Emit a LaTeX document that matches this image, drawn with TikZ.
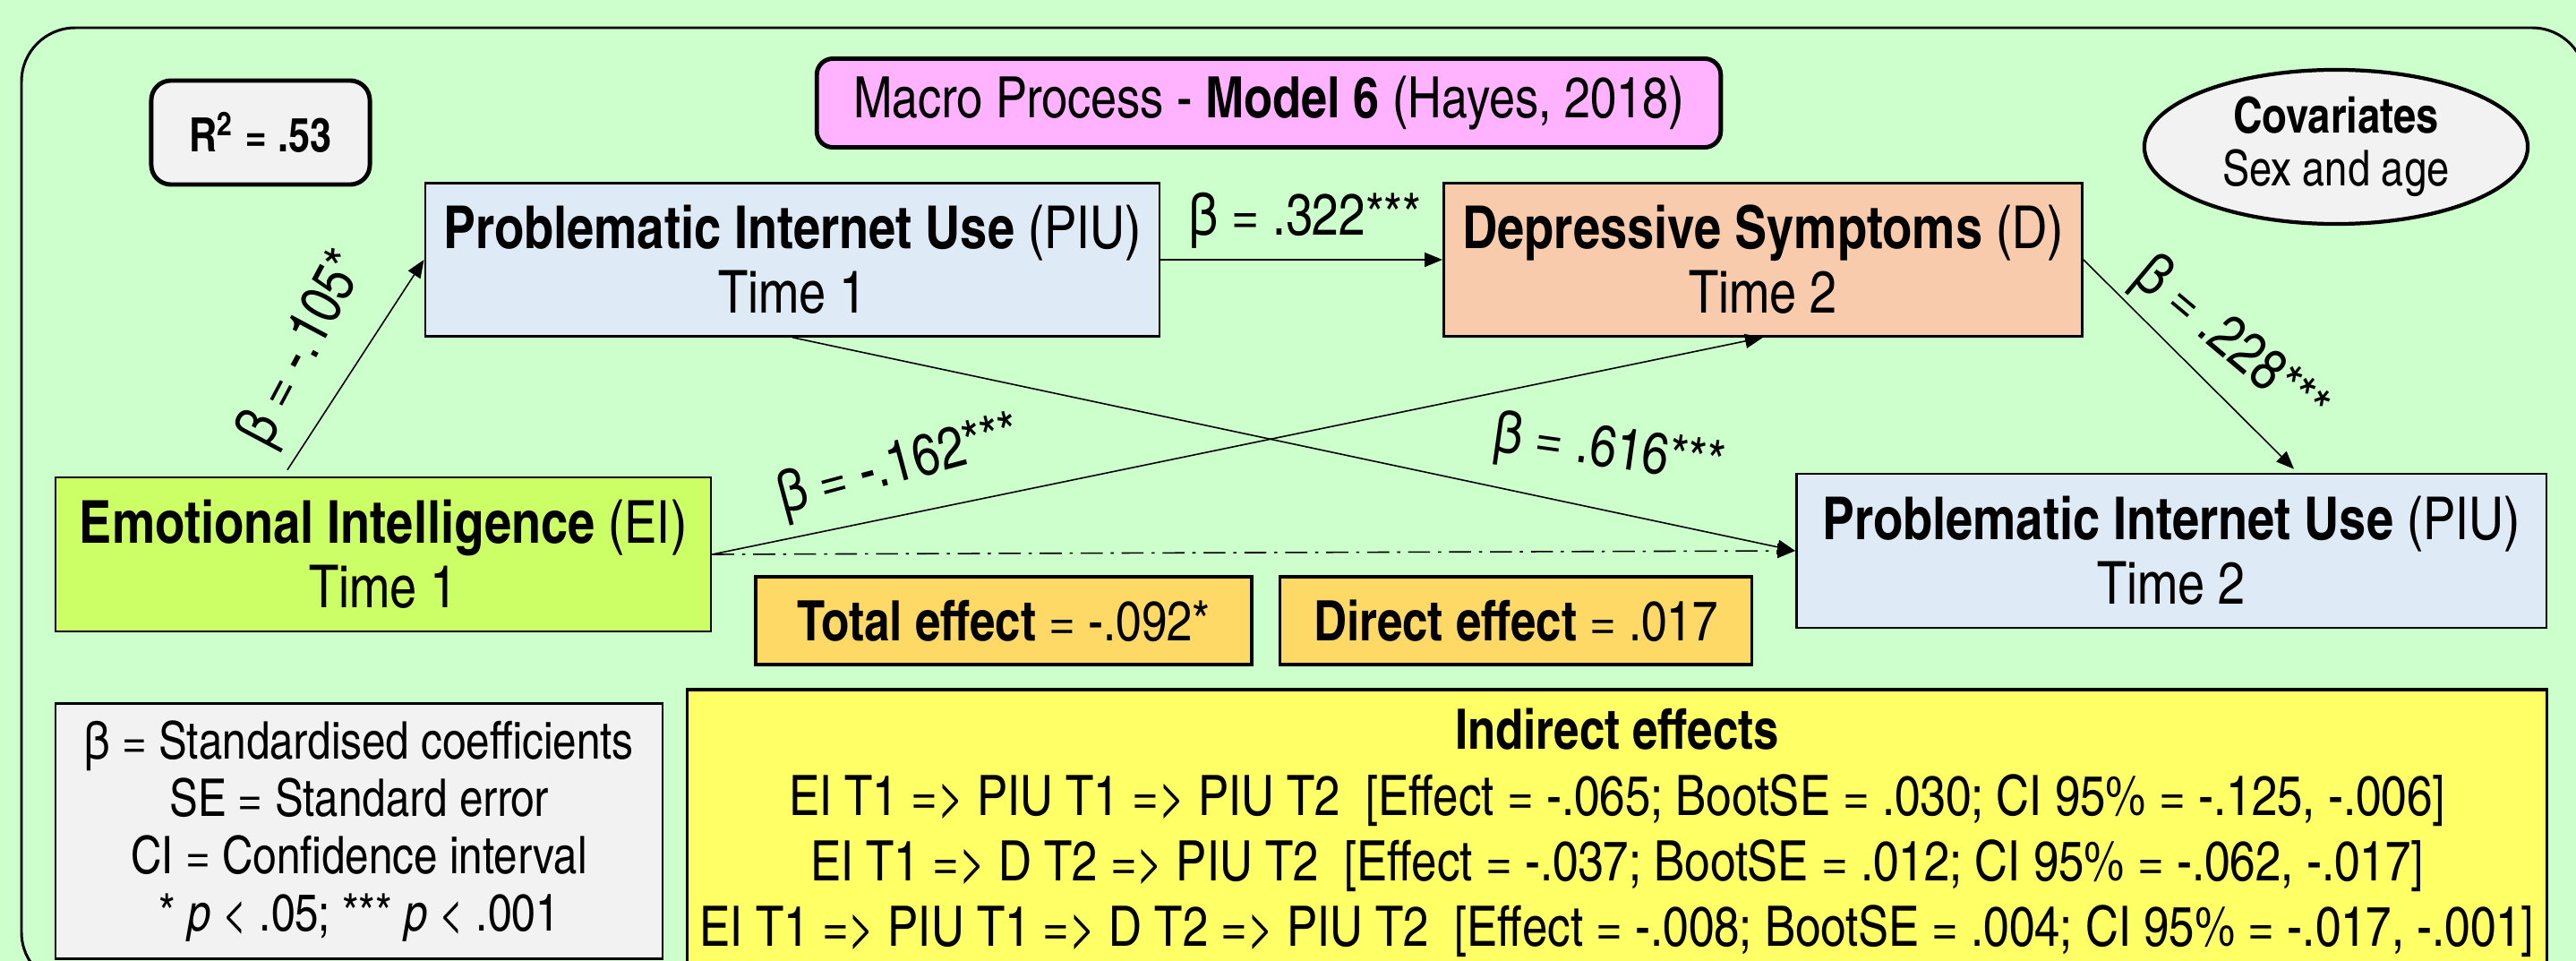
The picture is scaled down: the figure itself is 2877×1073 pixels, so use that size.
\documentclass[tikz,border=0pt]{standalone}
\usepackage{fontspec}
\setmainfont{texgyreheroscn}[Extension=.otf, UprightFont=*-regular, BoldFont=*-bold, ItalicFont=*-italic, BoldItalicFont=*-bolditalic]
\usetikzlibrary{arrows.meta,shapes.geometric}

\definecolor{bgc}{HTML}{CCFFCC}
\definecolor{greyfill}{HTML}{F2F2F2}
\definecolor{pinkfill}{HTML}{FFB3FF}
\definecolor{bluefill}{HTML}{DEEBF7}
\definecolor{peachfill}{HTML}{F8CBAD}
\definecolor{limefill}{HTML}{CCFF66}
\definecolor{goldfill}{HTML}{FFD966}
\definecolor{yellowfill}{HTML}{FFFF66}

\newcommand\bigtxt{\fontsize{18.8pt}{20.5pt}\selectfont}
\newcommand\coeftxt{\fontsize{18.5pt}{20.5pt}\selectfont}
\newcommand\macrotxt{\fontsize{18.1pt}{20.5pt}\selectfont}
\newcommand\efftxt{\fontsize{17.7pt}{20.5pt}\selectfont}
\newcommand\smalltxt{\fontsize{16.5pt}{18.2pt}\selectfont}
\newcommand\covtxt{\fontsize{15.7pt}{16.8pt}\selectfont}
\newcommand\rtxt{\fontsize{15pt}{16.8pt}\selectfont}
\newcommand\indtxt{\fontsize{17.7pt}{20.8pt}\selectfont}

\begin{document}
\begin{tikzpicture}[x=0.01cm, y=-0.01cm,
  var/.style={draw, line width=0.7pt, align=center, font=\bigtxt, inner sep=0pt},
  link/.style={-{Triangle[length=0.2cm,width=0.16cm]}, line width=0.45pt},
  coef/.style={font=\coeftxt, inner sep=0pt},
]
% canvas
\fill[bgc] (0,0) rectangle (2877,1073);
\useasboundingbox (0,0) rectangle (2877,1073);
\clip (0,0) rectangle (2877,1073);
\draw[line width=0.85pt, rounded corners=0.6cm] (24,31) rectangle (2888,1101);

% header boxes
\node[var, fill=greyfill, line width=1.4pt, rounded corners=0.22cm,
      minimum width=2.44cm, minimum height=1.16cm, font=\rtxt\bfseries]
      (r2) at (291,148) {R\textsuperscript{2} = .53};
\node[var, fill=pinkfill, line width=1.4pt, rounded corners=0.18cm,
      minimum width=10.09cm, minimum height=0.99cm, font=\macrotxt]
      (macro) at (1417,115) {Macro Process - \textbf{Model 6} (Hayes, 2018)};
\node[draw, ellipse, fill=greyfill, line width=1.2pt, minimum width=4.28cm,
      minimum height=1.72cm, inner sep=0pt, align=center, font=\covtxt]
      (cov) at (2609,164) {\textbf{Covariates}\\Sex and age};

% variables
\node[var, fill=bluefill, minimum width=8.2cm, minimum height=1.71cm]
      (piu1) at (885,290) {\textbf{Problematic Internet Use} (PIU)\\Time 1};
\node[var, fill=peachfill, minimum width=7.13cm, minimum height=1.71cm]
      (dep) at (1969,290) {\textbf{Depressive Symptoms} (D)\\Time 2};
\node[var, fill=limefill, minimum width=7.32cm, minimum height=1.72cm]
      (ei) at (428,619) {\textbf{Emotional Intelligence} (EI)\\Time 1};
\node[var, fill=bluefill, minimum width=8.37cm, minimum height=1.72cm]
      (piu2) at (2425,615) {\textbf{Problematic Internet Use} (PIU)\\Time 2};

% effects
\node[var, fill=goldfill, line width=1pt, minimum width=5.54cm, minimum height=0.98cm, font=\efftxt]
      (tot) at (1121,693) {\textbf{Total effect} = -.092*};
\node[var, fill=goldfill, line width=1pt, minimum width=5.27cm, minimum height=0.98cm, font=\efftxt]
      (dir) at (1693,693) {\textbf{Direct effect} = .017};

% legend
\node[var, fill=greyfill, minimum width=6.78cm, minimum height=2.85cm, font=\smalltxt]
      (legend) at (401,928)
      {β = Standardised coefficients\\SE = Standard error\\CI = Confidence interval\\* \textit{p} < .05; *** \textit{p} < .001};

% indirect effects
\node[var, fill=yellowfill, line width=1pt, minimum width=20.76cm, minimum height=3.2cm, font=\indtxt]
      (ind) at (1806,930)
      {\textbf{Indirect effects}\\
       EI T1 => PIU T1 => PIU T2\ \ [Effect = -.065; BootSE = .030; CI 95\% = -.125, -.006]\\
       EI T1 => D T2 => PIU T2\ \ [Effect = -.037; BootSE = .012; CI 95\% = -.062, -.017]\\
       EI T1 => PIU T1 => D T2 => PIU T2\ \ [Effect = -.008; BootSE = .004; CI 95\% = -.017, -.001]};

% paths
\draw[link] ([xshift=-1.07cm,yshift=0.07cm]ei.north) -- (piu1.west);
\draw[link] (piu1.east) -- (dep.west);
\draw[link] (dep.east) -- ([xshift=1.37cm,yshift=0.04cm]piu2.north);
\draw[link] (ei.east) -- (dep.south);
\draw[link] (piu1.south) -- (piu2.west);
\draw[link, dash pattern=on 7pt off 2.5pt on 1pt off 2.5pt] (ei.east) -- (piu2.west);

% coefficients
\node[coef, rotate=62] (b1) at (340,390) {β = -.105*};
\node[coef] (b2) at (1458,246) {β = .322***};
\node[coef, rotate=-40] (b3) at (2490,384) {β = .228***};
\node[coef, rotate=15] (b4) at (1005,522) {β = -.162***};
\node[coef, rotate=-8] (b5) at (1797,505) {β = .616***};
\end{tikzpicture}
\end{document}
